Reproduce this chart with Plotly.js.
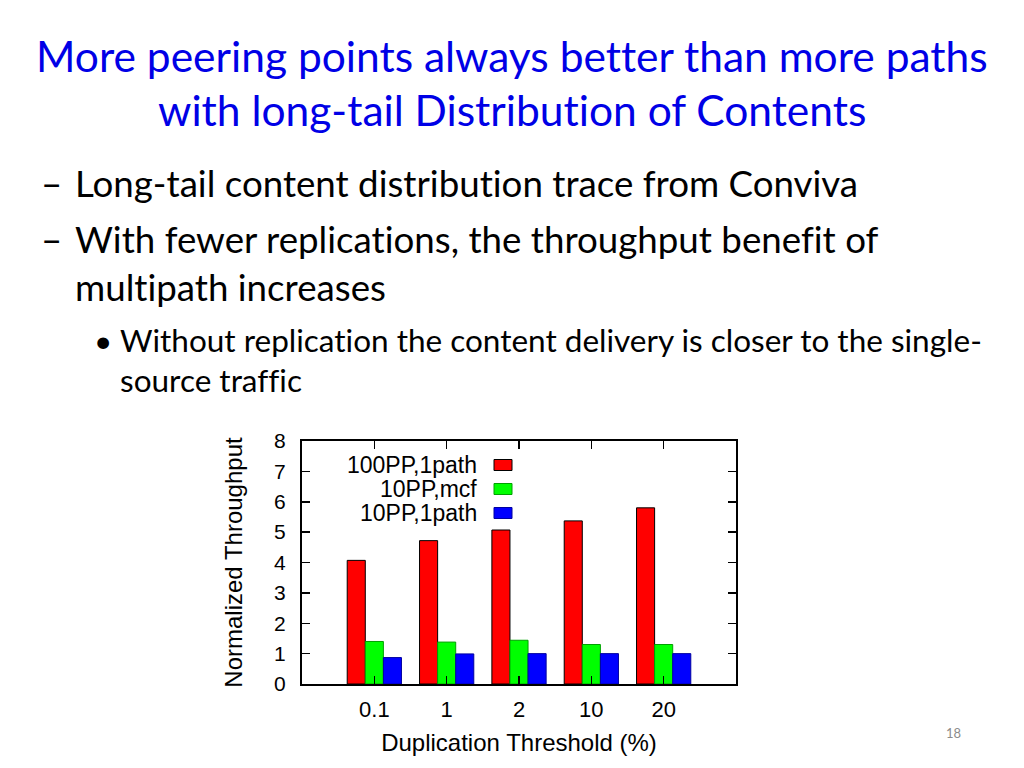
<!DOCTYPE html>
<html>
<head>
<meta charset="utf-8">
<script src="https://cdn.plot.ly/plotly-3.0.1.min.js"></script>
<style>html,body{margin:0;padding:0;background:#fff;}#chart{width:1024px;height:768px;}
svg text{font-variant-ligatures:none;font-feature-settings:"liga" 0, "clig" 0;}</style>
</head>
<body>
<div id="chart"></div>
<script>
// ---- data ----
const categories = ["0.1", "1", "2", "10", "20"];
const seriesNames = ["100PP,1path", "10PP,mcf", "10PP,1path"];
const pp100_1path = [4.07, 4.72, 5.07, 5.37, 5.80];
const pp10_mcf = [1.40, 1.38, 1.44, 1.30, 1.30];
const pp10_1path = [0.87, 0.99, 1.00, 1.00, 1.00];
const yTicks = [0, 1, 2, 3, 4, 5, 6, 7, 8];
const titleLines = ["More peering points always better than more paths", "with long-tail Distribution of Contents"];
const bullets = ["Long-tail content distribution trace from Conviva", "With fewer replications, the throughput benefit of", "multipath increases"];
const subBullets = ["Without replication the content delivery is closer to the single-", "source traffic"];
const xTitle = "Duplication Threshold (%)";
const yTitle = "Normalized Throughput";
const pageNumber = "18";

// ---- layout helpers ----
const W = 1024, H = 768;
const px = x => x / W;
const py = y => 1 - y / H;

const fills = ["#ff0000", "#00ff00", "#0000ff"];
const edges = ["#000000", "#00a000", "#0000a0"];
const seriesValues = [pp100_1path, pp10_mcf, pp10_1path];

const traces = seriesValues.map((vals, i) => ({
  type: "bar",
  x: categories,
  y: vals,
  name: seriesNames[i],
  marker: {color: fills[i], line: {color: edges[i], width: 1}},
  showlegend: false,
  hoverinfo: "x+y+name"
}));

const slideFont = "Lato, 'Open Sans', sans-serif";
const chartFont = "'Liberation Sans', Arial, sans-serif";

const annotations = [];
function addText(text, x, y, size, color, xanchor, fontFamily) {
  annotations.push({text: text, xref: "paper", yref: "paper", x: px(x), y: py(y),
    xanchor: xanchor, yanchor: "middle", showarrow: false, borderpad: 0,
    font: {family: fontFamily, size: size, color: color}});
}
// title
addText(titleLines[0], 512, 56, 42.5, "#0000e6", "center", slideFont);
addText(titleLines[1], 512, 109, 42.5, "#0000e6", "center", slideFont);
// bullets
addText("\u2013", 40, 183, 36.7, "#000", "left", slideFont);
addText(bullets[0], 74, 183, 36.7, "#000", "left", slideFont);
addText("\u2013", 40, 239, 36.7, "#000", "left", slideFont);
addText(bullets[1], 74, 239, 36.7, "#000", "left", slideFont);
addText(bullets[2], 74, 287, 36.7, "#000", "left", slideFont);
addText("\u2022", 93, 340, 31.5, "#000", "left", slideFont);
addText(subBullets[0], 119, 340, 31.5, "#000", "left", slideFont);
addText(subBullets[1], 119, 380, 31.5, "#000", "left", slideFont);
// page number
addText(pageNumber, 953, 733, 13, "#8c8c8c", "center", slideFont);

// legend (text right of swatch as in original)
const legendRowsY = [465, 489, 513];
const shapes = [];
seriesNames.forEach((n, i) => {
  addText(n, 478, legendRowsY[i], 23, "#000", "right", chartFont);
  shapes.push({type: "rect", xref: "paper", yref: "paper",
    x0: px(494), x1: px(512), y0: py(legendRowsY[i] - 5.5), y1: py(legendRowsY[i] + 5.5),
    fillcolor: fills[i], line: {color: edges[i], width: 1}});
});

const layout = {
  width: W, height: H,
  margin: {l: 0, r: 0, t: 0, b: 0},
  paper_bgcolor: "#fff", plot_bgcolor: "#fff",
  barmode: "group", bargap: 0.25, bargroupgap: 0,
  font: {family: chartFont, color: "#000"},
  xaxis: {
    type: "category", domain: [px(302), px(736)], range: [-1, 5],
    showline: true, mirror: "ticks", linecolor: "#000", linewidth: 2,
    ticks: "inside", ticklen: 8, tickcolor: "#000", tickwidth: 1.5,
    tickfont: {size: 22, family: chartFont}, ticklabelstandoff: 5,
    showgrid: false, zeroline: false,
    title: {text: xTitle, font: {size: 24, family: chartFont}, standoff: 13}
  },
  yaxis: {
    domain: [py(684), py(441)], range: [0, 8],
    tickvals: yTicks, ticktext: yTicks.map(String),
    showline: true, mirror: "ticks", linecolor: "#000", linewidth: 2,
    ticks: "inside", ticklen: 8, tickcolor: "#000", tickwidth: 1.5,
    tickfont: {size: 21, family: chartFont}, ticklabelstandoff: 10,
    showgrid: false, zeroline: false,
    title: {text: yTitle, font: {size: 24, family: chartFont}, standoff: 25}
  },
  annotations: annotations,
  shapes: shapes
};

Plotly.newPlot("chart", traces, layout, {displayModeBar: false, staticPlot: true});
</script>
</body>
</html>
